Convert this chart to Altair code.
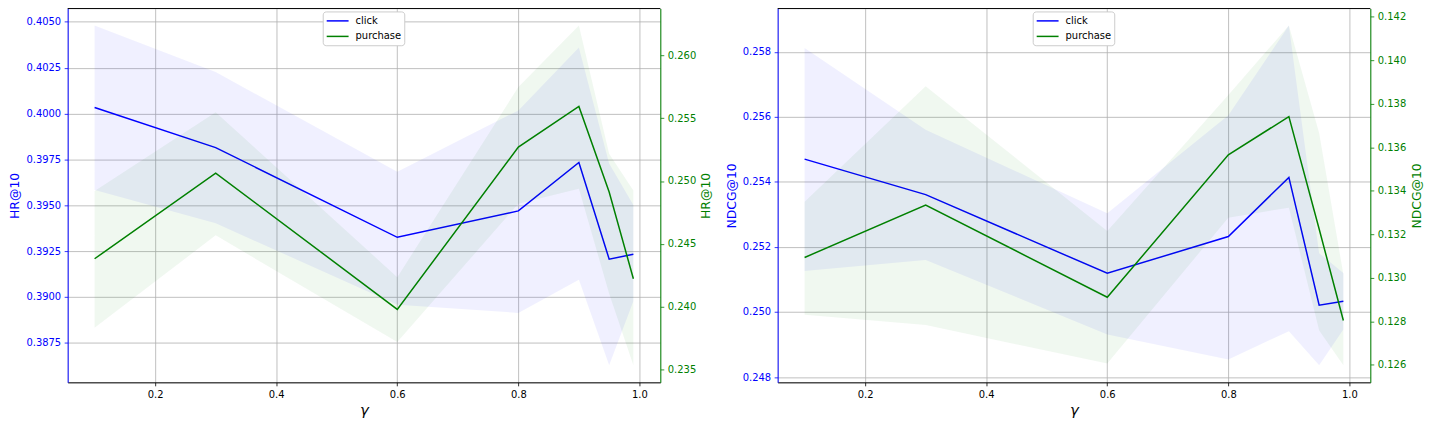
import altair as alt
import pandas as pd

# ---------------- data ----------------
gamma = [0.1, 0.3, 0.6, 0.8, 0.9, 0.95, 0.99]

hr_click = [0.40033, 0.39814, 0.39325, 0.39469, 0.39733, 0.39206, 0.39233]
hr_click_lo = [0.39583, 0.39401, 0.38958, 0.38913, 0.39094, 0.38627, 0.38976]
hr_click_hi = [0.40480, 0.40226, 0.39682, 0.40017, 0.40360, 0.39727, 0.39501]

hr_purchase = [0.24382, 0.25063, 0.23980, 0.25269, 0.25592, 0.24912, 0.24223]
hr_purchase_lo = [0.23834, 0.24568, 0.23720, 0.24819, 0.24938, 0.24104, 0.23535]
hr_purchase_hi = [0.24920, 0.25547, 0.24236, 0.25746, 0.26236, 0.25216, 0.24925]

ndcg_click = [0.25470, 0.25361, 0.25119, 0.25232, 0.25414, 0.25021, 0.25033]
ndcg_click_lo = [0.25126, 0.25160, 0.24931, 0.24854, 0.24941, 0.24836, 0.24946]
ndcg_click_hi = [0.25812, 0.25560, 0.25304, 0.25605, 0.25881, 0.25181, 0.25120]

ndcg_purchase = [0.13093, 0.13334, 0.12910, 0.13565, 0.13741, 0.13224, 0.12803]
ndcg_purchase_lo = [0.12830, 0.12782, 0.12605, 0.13276, 0.13322, 0.12757, 0.12597]
ndcg_purchase_hi = [0.13349, 0.13880, 0.13215, 0.13840, 0.14160, 0.13665, 0.13016]

series_names = ["click", "purchase"]
x_ticks = [0.2, 0.4, 0.6, 0.8, 1.0]
hr_click_ticks = [0.3875, 0.3900, 0.3925, 0.3950, 0.3975, 0.4000, 0.4025, 0.4050]
hr_purchase_ticks = [0.235, 0.240, 0.245, 0.250, 0.255, 0.260]
ndcg_click_ticks = [0.248, 0.250, 0.252, 0.254, 0.256, 0.258]
ndcg_purchase_ticks = [0.126, 0.128, 0.130, 0.132, 0.134, 0.136, 0.138, 0.140, 0.142]

# ---------------- style ----------------
BLUE = "#0000ff"
GREEN = "#008000"
GRID = "#b0b0b0"
W, H = 596, 376
FONT = "DejaVu Sans"


def padded(lo, hi):
    mn, mx = min(lo), max(hi)
    r = mx - mn
    return [mn - 0.05 * r, mx + 0.05 * r]


x_scale = alt.Scale(domain=padded(gamma, gamma), nice=False, zero=False)
x_axis = alt.Axis(
    values=x_ticks, format=".1f", title="γ", titleFontStyle="italic",
    titleFontSize=15, titleFontWeight="normal", titleColor="black",
    titleY=27, titleBaseline="middle",
    labelColor="black", labelFontSize=10, labelPadding=3.5, labelFlush=False,
    tickSize=3.5, tickWidth=0.8, tickColor="black",
    domainColor="black", domainWidth=1,
    grid=True, gridColor=GRID, gridWidth=0.8,
)


def y_axis(orient, color, ticks, fmt, title, title_x, grid):
    return alt.Axis(
        orient=orient, values=ticks, format=fmt, title=title,
        titleX=title_x, titleAngle=270, titleBaseline="middle",
        titleColor=color, titleFontSize=12.5, titleFontWeight="normal",
        labelColor=color, labelFontSize=10, labelPadding=3.5,
        tickColor=color, tickSize=3.5, tickWidth=0.8,
        domainColor=color, domainWidth=1,
        grid=grid, gridColor=GRID, gridWidth=0.8,
    )


def legend():
    return alt.Legend(
        title=None, orient="none", legendX=256.5, legendY=3,
        symbolType="M-1,0H3", symbolSize=121, symbolStrokeWidth=1.5,
        labelFontSize=10, labelFont=FONT, labelColor="black", labelOffset=17,
        padding=3, rowPadding=3.6, fillColor="white", strokeColor="#cccccc",
        cornerRadius=3,
    )


color_enc = alt.Color(
    "series:N",
    scale=alt.Scale(domain=series_names, range=[BLUE, GREEN]),
    legend=legend(),
)


def series_layer(vals, lo, hi, name, col, axis, ydom):
    df = pd.DataFrame({"gamma": gamma, "value": vals, "lo": lo, "hi": hi, "series": name})
    ysc = alt.Scale(domain=ydom, nice=False, zero=False)
    base = alt.Chart(df)
    area = base.mark_area(color=col, opacity=0.06).encode(
        x=alt.X("gamma:Q", scale=x_scale, axis=x_axis),
        y=alt.Y("lo:Q", scale=ysc, axis=axis),
        y2="hi:Q",
    )
    line = base.mark_line(strokeWidth=1.5).encode(
        x=alt.X("gamma:Q", scale=x_scale, axis=x_axis),
        y=alt.Y("value:Q", scale=ysc, axis=axis),
        color=color_enc,
    )
    return alt.layer(area, line)


def panel(c, c_lo, c_hi, p, p_lo, p_hi, title, c_ticks, c_fmt, p_ticks, p_fmt, ltx, rtx):
    left = series_layer(
        c, c_lo, c_hi, "click", BLUE,
        y_axis("left", BLUE, c_ticks, c_fmt, title, ltx, True), padded(c_lo, c_hi))
    right = series_layer(
        p, p_lo, p_hi, "purchase", GREEN,
        y_axis("right", GREEN, p_ticks, p_fmt, title, rtx, False), padded(p_lo, p_hi))
    spine = alt.Chart(pd.DataFrame({"k": [0]})).mark_rule(color="black", strokeWidth=1).encode(
        x=alt.value(0), x2=alt.value(W), y=alt.value(0))
    return alt.layer(left, right, spine).resolve_scale(y="independent").properties(width=W, height=H)


hr_panel = panel(hr_click, hr_click_lo, hr_click_hi, hr_purchase, hr_purchase_lo, hr_purchase_hi,
                 "HR@10", hr_click_ticks, ".4f", hr_purchase_ticks, ".3f", -53, 45)
ndcg_panel = panel(ndcg_click, ndcg_click_lo, ndcg_click_hi, ndcg_purchase, ndcg_purchase_lo, ndcg_purchase_hi,
                   "NDCG@10", ndcg_click_ticks, ".3f", ndcg_purchase_ticks, ".3f", -46.6, 46.7)

chart = (
    alt.hconcat(hr_panel, ndcg_panel, spacing=12)
    .resolve_scale(color="independent")
    .properties(padding={"top": -1.7, "left": 0, "right": 0, "bottom": 0})
    .configure_view(stroke="transparent")
    .configure_axis(labelFont=FONT, titleFont=FONT)
    .configure(font=FONT)
)

chart.save("out.html", embed_options={"renderer": "svg", "actions": False})
